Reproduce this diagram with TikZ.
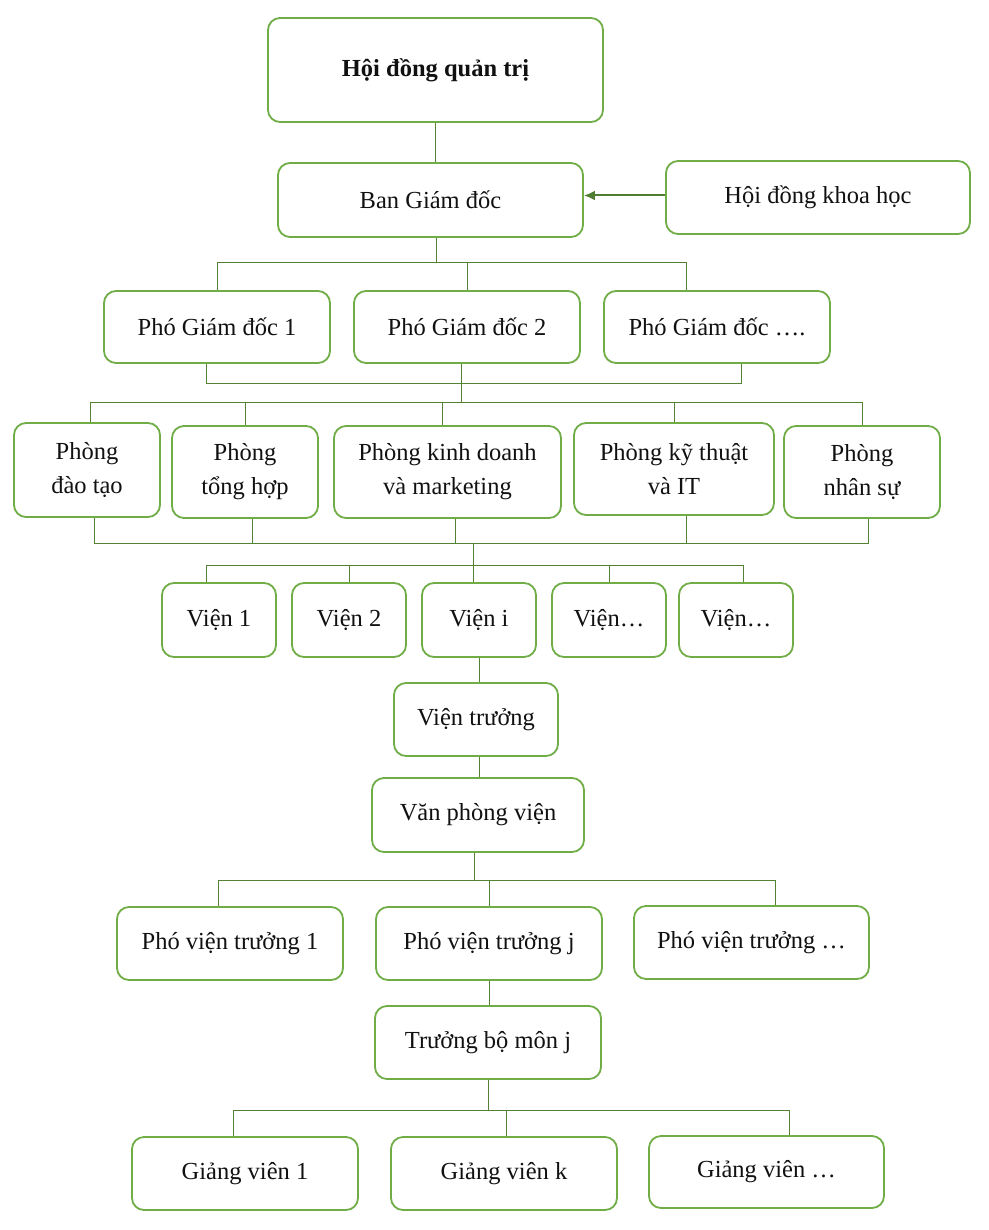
\documentclass[tikz,border=0pt]{standalone}
\usepackage{fontspec}
\setmainfont{Liberation Serif}
\usetikzlibrary{arrows.meta}
\definecolor{boxgreen}{HTML}{70AD47}
\definecolor{linegreen}{HTML}{548235}
\definecolor{arrowgreen}{HTML}{507E32}
\definecolor{txt}{HTML}{111111}
\begin{document}
\begin{tikzpicture}[x=1pt,y=-1pt,
  box/.style={draw=boxgreen, line width=1.8pt, rounded corners=12pt, fill=white,
    align=center, inner sep=0pt, font=\fontsize{24.5}{34}\selectfont, text=txt},
  conn/.style={draw=linegreen, line width=1pt}]
\useasboundingbox (0,0) rectangle (988,1230);

% level 0-1
\node[box, minimum width=335pt, minimum height=104pt, font=\fontsize{24.5}{34}\selectfont\bfseries] (hdqt) at (435.5,70) {Hội đồng quản trị};
\node[box, minimum width=305pt, minimum height=74pt] (bgd) at (430.5,200) {Ban Giám đốc};
\node[box, minimum width=304pt, minimum height=73pt] (hdkh) at (818,197.5) {Hội đồng khoa học};

% deputy directors
\node[box, minimum width=226pt, minimum height=72pt] (pgd1) at (217,327) {Phó Giám đốc 1};
\node[box, minimum width=226pt, minimum height=72pt] (pgd2) at (467,327) {Phó Giám đốc 2};
\node[box, minimum width=226pt, minimum height=72pt] (pgd3) at (717,327) {Phó Giám đốc ….};

% departments
\node[box, minimum width=146pt, minimum height=94pt] (p1) at (87,470) {Phòng\\đào tạo};
\node[box, minimum width=146pt, minimum height=92pt] (p2) at (245,472) {Phòng\\tổng hợp};
\node[box, minimum width=227pt, minimum height=92pt] (p3) at (447.5,472) {Phòng kinh doanh\\và marketing};
\node[box, minimum width=200pt, minimum height=92pt] (p4) at (674,469) {Phòng kỹ thuật\\và IT};
\node[box, minimum width=156pt, minimum height=92pt] (p5) at (862,472) {Phòng\\nhân sự};

% institutes
\node[box, minimum width=114pt, minimum height=74pt] (v1) at (219,620) {Viện 1};
\node[box, minimum width=114pt, minimum height=74pt] (v2) at (349,620) {Viện 2};
\node[box, minimum width=114pt, minimum height=74pt] (v3) at (479,620) {Viện i};
\node[box, minimum width=114pt, minimum height=74pt] (v4) at (609,620) {Viện…};
\node[box, minimum width=114pt, minimum height=74pt] (v5) at (736,620) {Viện…};

\node[box, minimum width=164pt, minimum height=73pt] (vt) at (476,719.5) {Viện trưởng};
\node[box, minimum width=212pt, minimum height=74pt] (vpv) at (478,815) {Văn phòng viện};

\node[box, minimum width=226pt, minimum height=73pt] (pvt1) at (230,943.5) {Phó viện trưởng 1};
\node[box, minimum width=226pt, minimum height=73pt] (pvt2) at (489,943.5) {Phó viện trưởng j};
\node[box, minimum width=235pt, minimum height=73pt] (pvt3) at (751.5,942.5) {Phó viện trưởng …};

\node[box, minimum width=226pt, minimum height=73pt] (tbm) at (488,1042.5) {Trưởng bộ môn j};

\node[box, minimum width=226pt, minimum height=73pt] (gv1) at (245,1173.5) {Giảng viên 1};
\node[box, minimum width=226pt, minimum height=73pt] (gv2) at (504,1173.5) {Giảng viên k};
\node[box, minimum width=235pt, minimum height=72pt] (gv3) at (766.5,1172) {Giảng viên …};

% ---------- connectors ----------
\draw[conn] (hdqt.south) -- (hdqt.south |- bgd.north);
\draw[arrowgreen, line width=2pt, -{Latex[length=11pt,width=10pt]}] ([yshift=2pt]hdkh.west) -- ([yshift=2pt]hdkh.west -| bgd.east);

% BGD -> PGD
\coordinate (a0) at ([xshift=6pt]bgd.south);
\coordinate (j1) at ([yshift=-25pt]a0);
\coordinate (d3) at ([xshift=-31pt]pgd3.north);
\draw[conn] (a0) -- (j1);
\draw[conn] (pgd1.north) -- (pgd1.north |- j1) -- (d3 |- j1) -- (d3);
\draw[conn] (pgd2.north) -- (pgd2.north |- j1);

% PGD -> Phong
\coordinate (u1) at ([xshift=-11pt]pgd1.south);
\coordinate (u2) at ([xshift=-6pt]pgd2.south);
\coordinate (u3) at ([xshift=24pt]pgd3.south);
\coordinate (j2) at ([yshift=-20pt]u1);
\coordinate (j3) at ([yshift=-39pt]u2);
\draw[conn] (u1) -- (j2) -- (u3 |- j2) -- (u3);
\draw[conn] (u2) -- (j3);
\coordinate (t1) at ([xshift=3pt]p1.north);
\coordinate (t3) at ([xshift=-5pt]p3.north);
\draw[conn] (t1) -- (t1 |- j3) -- (p5.north |- j3) -- (p5.north);
\draw[conn] (p2.north) -- (p2.north |- j3);
\draw[conn] (t3) -- (t3 |- j3);
\draw[conn] (p4.north) -- (p4.north |- j3);

% Phong -> Vien
\coordinate (s1) at ([xshift=7pt]p1.south);
\coordinate (s2) at ([xshift=7pt]p2.south);
\coordinate (s3) at ([xshift=8pt]p3.south);
\coordinate (s4) at ([xshift=12pt]p4.south);
\coordinate (s5) at ([xshift=6pt]p5.south);
\coordinate (j4) at (473,543);
\coordinate (j5) at (473,565);
\draw[conn] (s1) -- (s1 |- j4) -- (s5 |- j4) -- (s5);
\draw[conn] (s2) -- (s2 |- j4);
\draw[conn] (s3) -- (s3 |- j4);
\draw[conn] (s4) -- (s4 |- j4);
\draw[conn] (j4) -- (j5);
\coordinate (w1) at ([xshift=-13pt]v1.north);
\coordinate (w3) at ([xshift=-6pt]v3.north);
\coordinate (w5) at ([xshift=7pt]v5.north);
\draw[conn] (w1) -- (w1 |- j5) -- (w5 |- j5) -- (w5);
\draw[conn] (v2.north) -- (v2.north |- j5);
\draw[conn] (w3) -- (w3 |- j5);
\draw[conn] (v4.north) -- (v4.north |- j5);

% Vien i -> Vien truong -> Van phong vien
\draw[conn] (v3.south) -- (v3.south |- vt.north);
\draw[conn] (v3.south |- vt.south) -- (v3.south |- vpv.north);

% VPV -> PVT
\coordinate (c0) at ([xshift=-4pt]vpv.south);
\coordinate (j6) at ([yshift=-28pt]c0);
\coordinate (q1) at ([xshift=-12pt]pvt1.north);
\coordinate (q3) at ([xshift=24pt]pvt3.north);
\draw[conn] (c0) -- (j6);
\draw[conn] (q1) -- (q1 |- j6) -- (q3 |- j6) -- (q3);
\draw[conn] (pvt2.north) -- (pvt2.north |- j6);

% PVT j -> TBM
\draw[conn] (pvt2.south) -- (pvt2.south |- tbm.north);

% TBM -> GV
\coordinate (j7) at ([yshift=-31pt]tbm.south);
\coordinate (g1) at ([xshift=-12pt]gv1.north);
\coordinate (g2) at ([xshift=2pt]gv2.north);
\coordinate (g3) at ([xshift=23pt]gv3.north);
\draw[conn] (tbm.south) -- (j7);
\draw[conn] (g1) -- (g1 |- j7) -- (g3 |- j7) -- (g3);
\draw[conn] (g2) -- (g2 |- j7);
\end{tikzpicture}
\end{document}
